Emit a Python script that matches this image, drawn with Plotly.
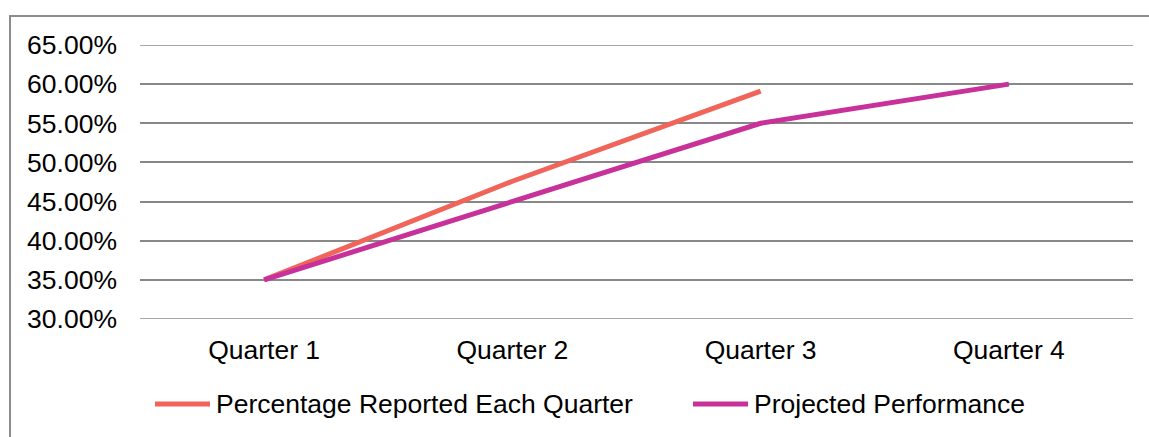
import plotly.graph_objects as go

quarters = ["Quarter 1", "Quarter 2", "Quarter 3", "Quarter 4"]
reported = [0.35, 0.476, 0.591, None]
projected = [0.35, 0.45, 0.55, 0.60]
series_names = ["Percentage Reported Each Quarter", "Projected Performance"]
y_min, y_max = 0.30, 0.65

ORANGE = "#F0645A"
MAGENTA = "#C8309A"
GRID = "#888888"
FONT = dict(family="Liberation Sans, Arial, sans-serif", size=26.5, color="#000000")

fig = go.Figure()
fig.add_trace(go.Scatter(
    x=quarters, y=reported, mode="lines", name=series_names[0],
    line=dict(color=ORANGE, width=5), connectgaps=False, showlegend=False,
))
fig.add_trace(go.Scatter(
    x=quarters, y=projected, mode="lines", name=series_names[1],
    line=dict(color=MAGENTA, width=5), showlegend=False,
))

shapes = [dict(
    type="rect", xref="paper", yref="paper",
    x0=-0.1309, x1=1.2, y0=-0.8, y1=1.1058,
    line=dict(color="#8C8C8C", width=2), fillcolor="rgba(0,0,0,0)", layer="below",
)]
# Gridlines on the top and bottom edges of the value axis
for edge in (y_min, y_max):
    shapes.append(dict(
        type="line", xref="paper", yref="y", x0=0, x1=1, y0=edge, y1=edge,
        line=dict(color=GRID, width=1.6), layer="below",
    ))

# Legend drawn below the plot: a short colour bar followed by the series name
legend_y = -0.31
legend_items = [(series_names[0], ORANGE, 0.0151), (series_names[1], MAGENTA, 0.5569)]
annotations = []
for name, color, x0 in legend_items:
    shapes.append(dict(
        type="line", xref="paper", yref="paper",
        x0=x0, x1=x0 + 0.0554, y0=legend_y, y1=legend_y,
        line=dict(color=color, width=5),
    ))
    annotations.append(dict(
        text=name, xref="paper", yref="paper", x=x0 + 0.0590, y=legend_y,
        xanchor="left", yanchor="middle", showarrow=False, font=FONT,
    ))

fig.update_layout(
    width=1149, height=437,
    margin=dict(l=140, r=16, t=45, b=118),
    paper_bgcolor="white", plot_bgcolor="white",
    font=FONT,
    showlegend=False,
    xaxis=dict(
        type="category", range=[-0.5, 3.5], showgrid=False, zeroline=False,
        showline=False, ticks="", ticklabelstandoff=12, tickfont=FONT,
    ),
    yaxis=dict(
        range=[y_min, y_max], dtick=0.05, tick0=y_min, tickformat=".2%",
        showgrid=True, gridcolor=GRID, gridwidth=1.6, zeroline=False,
        showline=False, ticks="", ticklabelstandoff=22, tickfont=FONT,
    ),
    shapes=shapes,
    annotations=annotations,
)

fig.write_html("out.html")
